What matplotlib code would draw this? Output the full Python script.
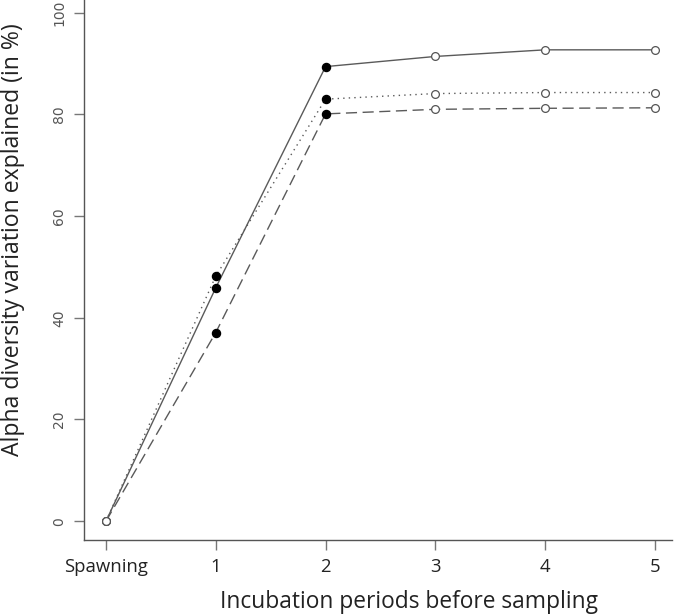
import matplotlib
matplotlib.use("Agg")
import matplotlib.pyplot as plt

x_labels = ["Spawning", "1", "2", "3", "4", "5"]
x_pos = [0, 1, 2, 3, 4, 5]
solid = [0, 45.9, 89.4, 91.4, 92.7, 92.7]
dotted = [0, 48.2, 83.0, 84.1, 84.3, 84.3]
dashed = [0, 37.1, 80.1, 81.0, 81.2, 81.3]
filled_mask = [False, True, True, False, False, False]
y_ticks = [0, 20, 40, 60, 80, 100]

W, H = 675, 615
fig = plt.figure(figsize=(W / 100, H / 100), dpi=100)
ax = fig.add_axes([84 / W, (H - 540) / H, (672 - 84) / W, 540 / H])

line_col = "#5a5a5a"
for ys, ls in [(solid, "-"), (dotted, (0, (1, 3))), (dashed, (0, (8, 4)))]:
    ax.plot(x_pos, ys, color=line_col, lw=1.0, linestyle=ls, zorder=2)
    fx = [x for x, f in zip(x_pos, filled_mask) if f]
    fy = [y for y, f in zip(ys, filled_mask) if f]
    ox = [x for x, f in zip(x_pos, filled_mask) if not f]
    oy = [y for y, f in zip(ys, filled_mask) if not f]
    ax.plot(fx, fy, "o", ms=5.8, color="black", zorder=3, linestyle="none")
    ax.plot(ox, oy, "o", ms=5.6, mfc="white", mec="#555555", mew=0.9,
            zorder=3, linestyle="none")

ax.set_xlim(-0.2, 5.155)
ax.set_ylim(-3.7, 102.5)
for s in ["top", "right"]:
    ax.spines[s].set_visible(False)
for s in ["left", "bottom"]:
    ax.spines[s].set_color("#555555")
    ax.spines[s].set_linewidth(1.0)

ax.set_xticks(x_pos)
ax.set_xticklabels(x_labels, fontfamily="Open Sans", fontsize=13.3, color="#222222")
ax.set_yticks(y_ticks)
ax.set_yticklabels([str(v) for v in y_ticks], rotation=90, va="center",
                   fontfamily="DejaVu Sans", fontsize=10, color="#555555")
ax.tick_params(axis="both", length=7, width=1.0, color="#777777")
ax.tick_params(axis="x", pad=6)
ax.tick_params(axis="y", pad=6)

ax.set_xlabel("Incubation periods before sampling", fontfamily="Open Sans",
              fontsize=16.4, color="#222222")
ax.xaxis.set_label_coords(0.553, -0.115)
ax.xaxis.label.set_va("center")
ax.set_ylabel("Alpha diversity variation explained (in %)", fontfamily="Open Sans",
              fontsize=16.6, color="#222222")
ax.yaxis.set_label_coords(-0.121, 0.556)
ax.yaxis.label.set_va("center")

fig.savefig("out.png", dpi=100)
